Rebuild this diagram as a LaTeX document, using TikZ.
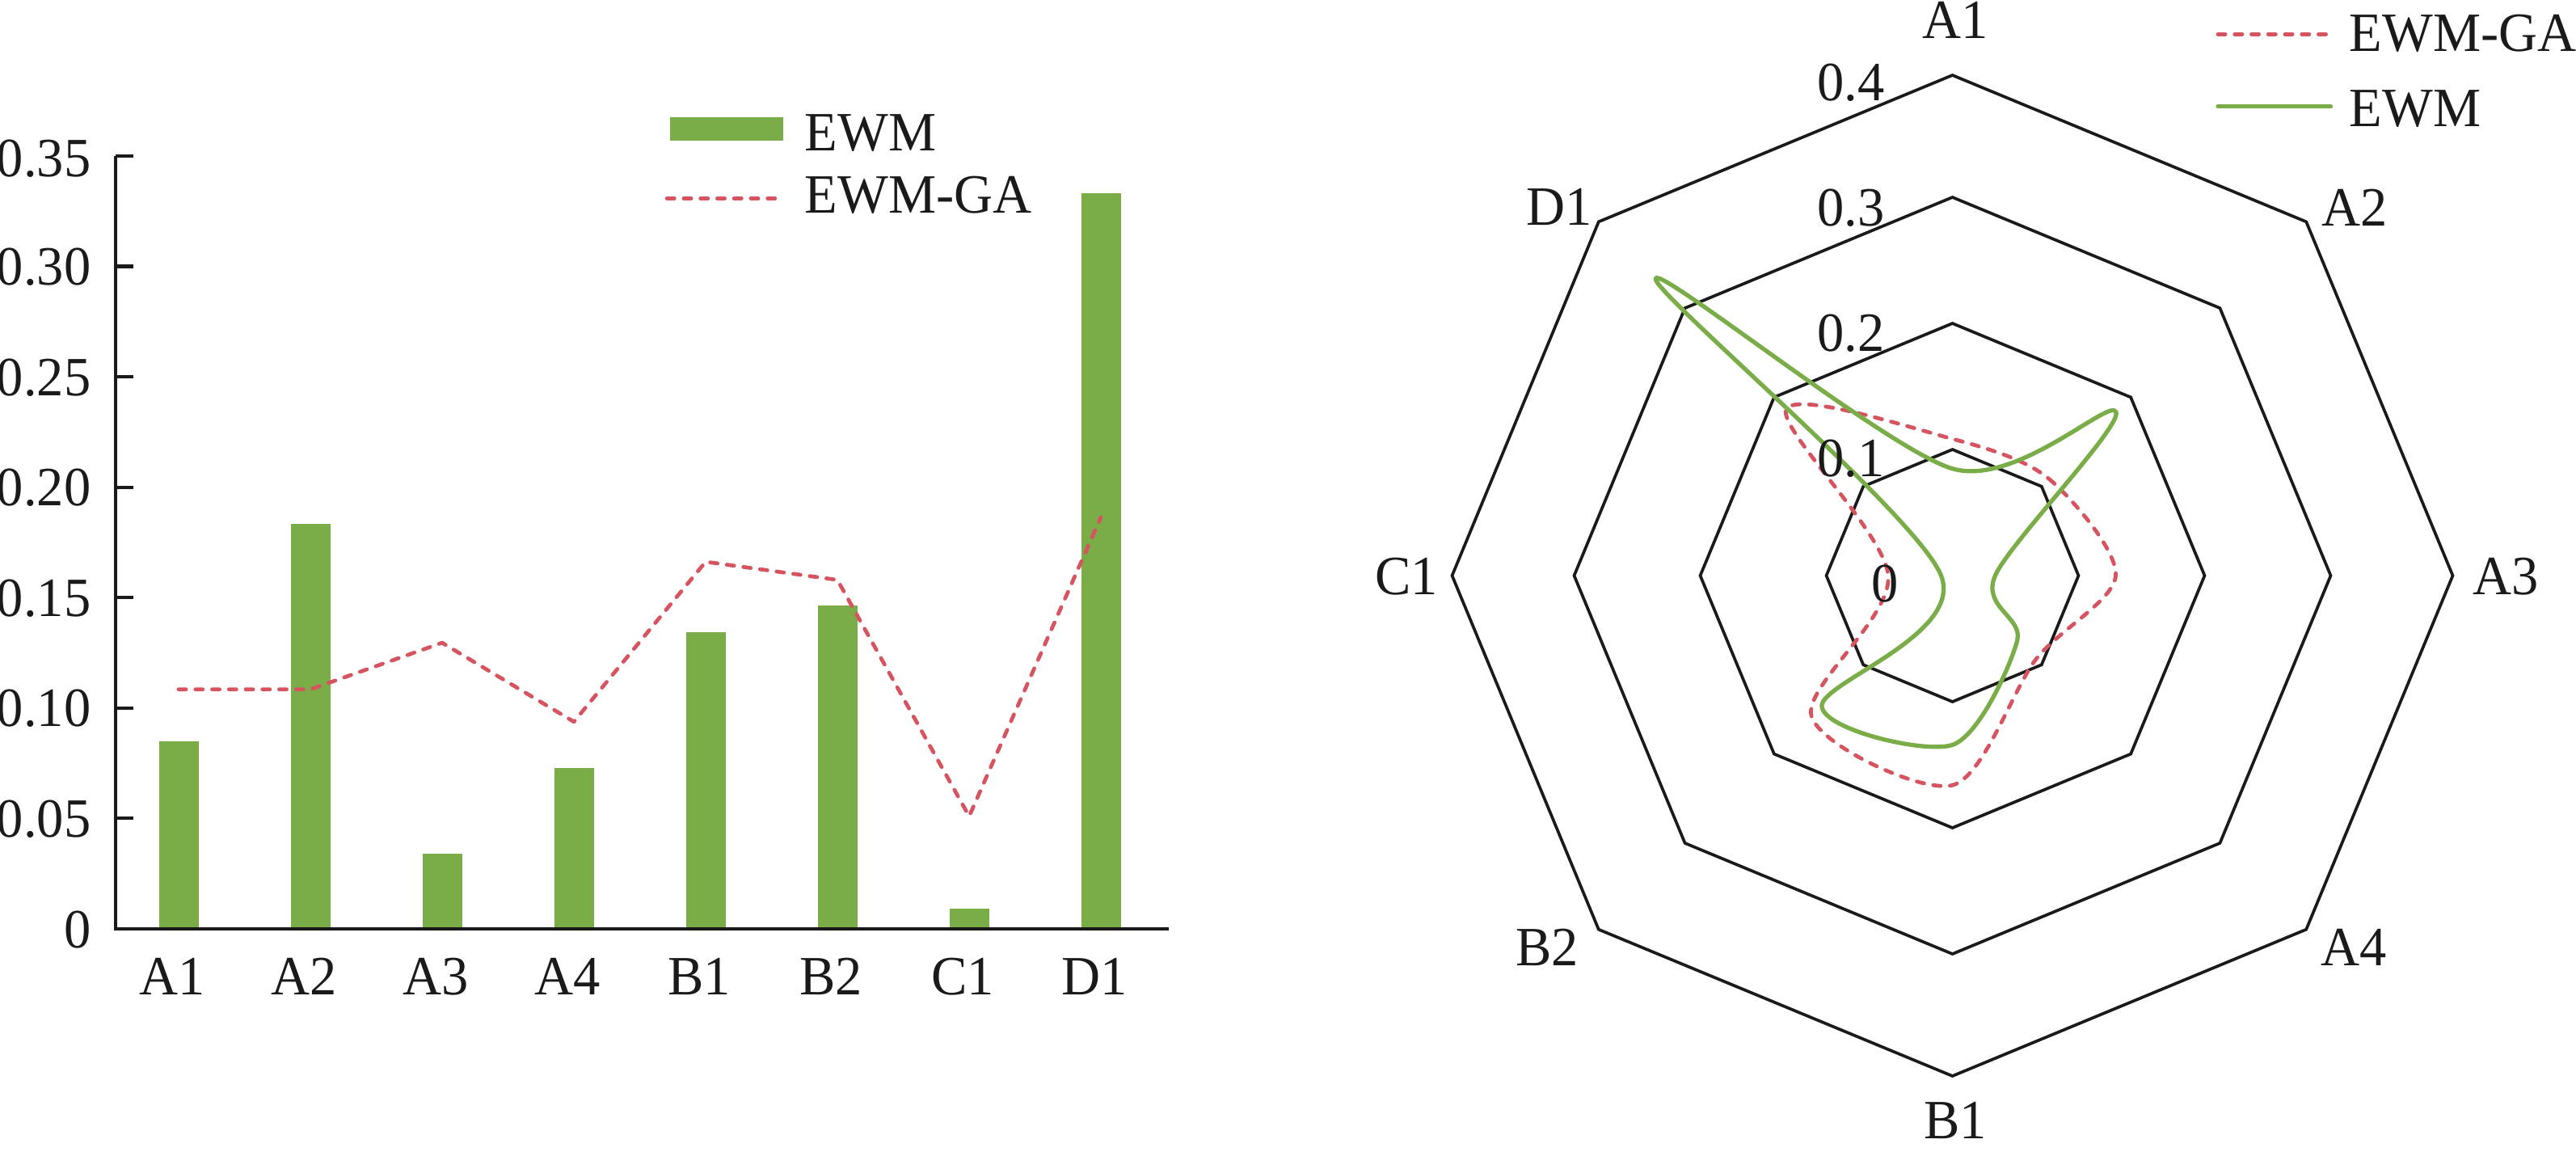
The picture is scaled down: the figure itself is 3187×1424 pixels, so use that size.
\documentclass[tikz,border=0pt]{standalone}
\usepackage{fontspec}
\setmainfont{Liberation Serif}[FakeStretch=0.97]
\usepackage{tikz}
\definecolor{ewmgreen}{RGB}{122,172,72}
\definecolor{gared}{RGB}{213,84,96}
\definecolor{inkblack}{RGB}{26,26,26}
\tikzset{
  lbl/.style={inner sep=0pt, text=inkblack, font=\fontsize{19.5}{23}\selectfont},
  axisline/.style={draw=inkblack, line width=1.2pt, line join=miter},
  ringline/.style={draw=inkblack, line width=1.05pt, line join=miter},
  ewmbar/.style={fill=ewmgreen, draw=none},
  galine/.style={draw=gared, line width=1.35pt, line cap=round, line join=round, dash pattern=on 2.6pt off 3.3pt},
  ewmline/.style={draw=ewmgreen, line width=1.5pt, line cap=round, line join=round},
}
\begin{document}
\begin{tikzpicture}[x=0.1mm,y=0.1mm,yscale=-1,xscale=1]
\useasboundingbox (0,0) rectangle (3187,1424);

%Shape: Bars [EWM]
\fill[ewmbar] (196.5,917.1) rectangle (245.5,1148.7);
\fill[ewmbar] (359.5,647.6) rectangle (408.5,1148.7);
\fill[ewmbar] (522.5,1056.1) rectangle (571.5,1148.7);
\fill[ewmbar] (685.5,950.2) rectangle (734.5,1148.7);
\fill[ewmbar] (848.5,782.3) rectangle (897.5,1148.7);
\fill[ewmbar] (1011.5,748.7) rectangle (1060.5,1148.7);
\fill[ewmbar] (1174.5,1124.1) rectangle (1223.5,1148.7);
\fill[ewmbar] (1337.5,239.4) rectangle (1386.5,1148.7);

%Shape: Axes
\draw[axisline] (143,193) -- (143,1148.7) -- (1446,1148.7);
\draw[axisline] (143,193) -- (165,193);
\draw[axisline] (143,329.5) -- (165,329.5);
\draw[axisline] (143,466) -- (165,466);
\draw[axisline] (143,602.6) -- (165,602.6);
\draw[axisline] (143,739.1) -- (165,739.1);
\draw[axisline] (143,875.6) -- (165,875.6);
\draw[axisline] (143,1012.2) -- (165,1012.2);

%Shape: Polyline [EWM-GA]
\draw[galine] (221,852.7) -- (384,852.7) -- (547,795.1) -- (710,892.8) -- (873,694.9) -- (1036,717.3) -- (1199,1009.7) -- (1362,639.7);

%Tick labels
\node[lbl, anchor=east] (y0) at (113,1149.7) {0};
\node[lbl, anchor=east] (y5) at (113,1013.2) {0.05};
\node[lbl, anchor=east] (y10) at (113,876.6) {0.10};
\node[lbl, anchor=east] (y15) at (113,740.1) {0.15};
\node[lbl, anchor=east] (y20) at (113,603.6) {0.20};
\node[lbl, anchor=east] (y25) at (113,467) {0.25};
\node[lbl, anchor=east] (y30) at (113,330.5) {0.30};
\node[lbl, anchor=east] (y35) at (113,196) {0.35};
\node[lbl] (xA1) at (213,1208) {A1};
\node[lbl] (xA2) at (376,1208) {A2};
\node[lbl] (xA3) at (539,1208) {A3};
\node[lbl] (xA4) at (702,1208) {A4};
\node[lbl] (xB1) at (865,1208) {B1};
\node[lbl] (xB2) at (1028,1208) {B2};
\node[lbl] (xC1) at (1191,1208) {C1};
\node[lbl] (xD1) at (1354,1208) {D1};

%Legend [bar chart]
\fill[ewmbar] (829,145) rectangle (969,173.7);
\node[lbl, anchor=west] (legbar) at (995,164.5) {EWM};
\draw[galine] (825.2,245.3) -- (960.8,245.3);
\node[lbl, anchor=west] (legga) at (995,241) {EWM-GA};

%Shape: Octagons [radar]
\begin{scope}[shift={(2415.5,712)}]
\draw[ringline] (-90:156) -- (-45:156) -- (0:156) -- (45:156) -- (90:156) -- (135:156) -- (180:156) -- (225:156) -- cycle;
\draw[ringline] (-90:312) -- (-45:312) -- (0:312) -- (45:312) -- (90:312) -- (135:312) -- (180:312) -- (225:312) -- cycle;
\draw[ringline] (-90:468) -- (-45:468) -- (0:468) -- (45:468) -- (90:468) -- (135:468) -- (180:468) -- (225:468) -- cycle;
\draw[ringline] (-90:619) -- (-45:619) -- (0:619) -- (45:619) -- (90:619) -- (135:619) -- (180:619) -- (225:619) -- cycle;
%Curve [EWM-GA]
\draw[galine] plot[smooth cycle, tension=0.5] coordinates {(-90:169.1) (-45:169.1) (0:202.0) (45:146.2) (90:259.3) (135:246.5) (180:79.4) (225:290.8)};
%Curve [EWM]
\draw[ewmline] plot[smooth cycle, tension=0.5] coordinates {(-90:132.3) (-45:286.3) (0:52.9) (45:113.4) (90:209.4) (135:228.5) (180:14.0) (225:519.5)};
\end{scope}

%Radar labels
\node[lbl, anchor=west] (r4) at (2248,101.7) {0.4};
\node[lbl, anchor=west] (r3) at (2248,256.7) {0.3};
\node[lbl, anchor=west] (r2) at (2248,411.7) {0.2};
\node[lbl, anchor=west] (r1) at (2248,567.5) {0.1};
\node[lbl] (r0) at (2332,722) {0};
\node[lbl] (kA1) at (2419,25) {A1};
\node[lbl] (kA2) at (2913,257) {A2};
\node[lbl] (kA3) at (3100,713) {A3};
\node[lbl] (kA4) at (2912,1172) {A4};
\node[lbl] (kB1) at (2419,1386) {B1};
\node[lbl] (kB2) at (1914,1172) {B2};
\node[lbl] (kC1) at (1740,713) {C1};
\node[lbl] (kD1) at (1929,256) {D1};

%Legend [radar]
\draw[galine] (2744,42.3) -- (2878,42.3);
\node[lbl, anchor=west] (radga) at (2906,41.3) {EWM-GA};
\draw[ewmline] (2744,131.7) -- (2883.5,131.7);
\node[lbl, anchor=west] (radewm) at (2906,134.2) {EWM};

\end{tikzpicture}
\end{document}
